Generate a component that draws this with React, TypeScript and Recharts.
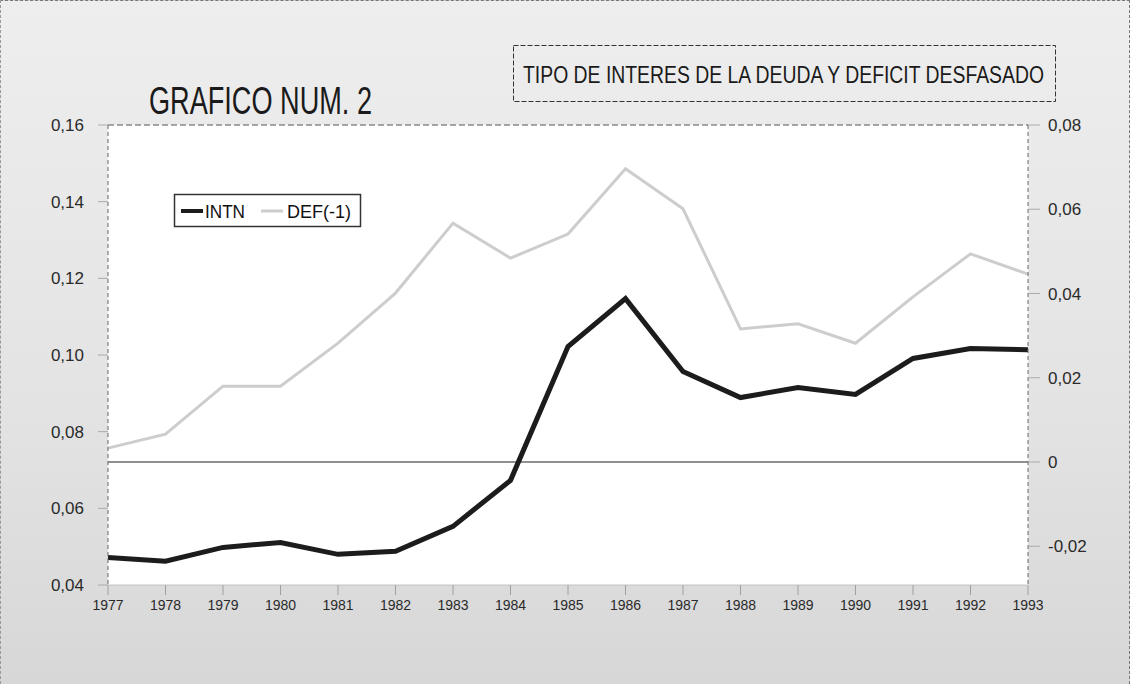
import React from 'react';
import { LineChart, Line, XAxis, YAxis, CartesianGrid, ReferenceLine } from 'recharts';

const years = ['1977', '1978', '1979', '1980', '1981', '1982', '1983', '1984', '1985', '1986', '1987', '1988', '1989', '1990', '1991', '1992', '1993'];
const intn = [0.0472, 0.0462, 0.0498, 0.0511, 0.048, 0.0488, 0.0553, 0.0673, 0.1022, 0.1147, 0.0957, 0.0889, 0.0915, 0.0897, 0.0991, 0.1017, 0.1014];
const defLag = [0.0033, 0.0066, 0.018, 0.018, 0.0282, 0.0401, 0.0567, 0.0484, 0.0541, 0.0696, 0.0601, 0.0316, 0.0328, 0.0282, 0.0392, 0.0494, 0.0446];
const leftTicks = [0.04, 0.06, 0.08, 0.1, 0.12, 0.14, 0.16];
const rightTicks = [-0.02, 0, 0.02, 0.04, 0.06, 0.08];

const data = years.map((y, i) => ({ year: y, INTN: intn[i], 'DEF(-1)': defLag[i] }));

const fmt = (v: number) => (v === 0 ? '0' : v.toFixed(2).replace('.', ','));
const font = '"Liberation Sans", Arial, sans-serif';
const tickStyle = { fill: '#2a2a2a', fontSize: 17, fontFamily: font };

const App: React.FC = () => {
  return (
    <div style={{ position: 'absolute', left: 0, top: 0, width: 1130, height: 684, background: 'linear-gradient(180deg, #eeeeee 0%, #e3e3e3 60%, #d7d7d7 100%)', boxSizing: 'border-box', borderTop: '1px dashed #777', borderRight: '1px dashed #777', borderLeft: '1px dashed #999' }}>
      <LineChart width={1130} height={684} data={data} margin={{ top: 124, right: 43, bottom: 69, left: 47 }} style={{ position: 'absolute', left: 0, top: 0 }}>
        <CartesianGrid horizontal={false} vertical={false} fill="#ffffff" />
        <XAxis dataKey="year" axisLine={{ stroke: '#c4c4c4' }} tickLine={{ stroke: '#a0a0a0' }} tickSize={10} tickMargin={5} tick={{ ...tickStyle, fontSize: 14 }} interval={0} height={31} />
        <YAxis yAxisId="left" domain={[0.04, 0.16]} ticks={leftTicks} tickFormatter={fmt} width={60} axisLine={{ stroke: '#666', strokeDasharray: '4 3' }} tickLine={{ stroke: '#aaa' }} tickSize={10} tickMargin={14} tick={tickStyle} />
        <YAxis yAxisId="right" orientation="right" domain={[-0.0292, 0.08]} ticks={rightTicks} tickFormatter={fmt} width={60} axisLine={{ stroke: '#666', strokeDasharray: '4 3' }} tickLine={{ stroke: '#aaa' }} tickSize={12} tickMargin={8} tick={tickStyle} />
        <ReferenceLine yAxisId="left" y={0.16} stroke="#555" strokeDasharray="6 3" />
        <ReferenceLine yAxisId="right" y={0} stroke="#222" strokeWidth={1} />
        <Line yAxisId="right" type="linear" dataKey="DEF(-1)" stroke="#cdcdcd" strokeWidth={3} dot={false} isAnimationActive={false} />
        <Line yAxisId="left" type="linear" dataKey="INTN" stroke="#1c1c1c" strokeWidth={5} dot={false} isAnimationActive={false} />
      </LineChart>
      <svg width={1130} height={684} style={{ position: 'absolute', left: 0, top: 0, pointerEvents: 'none' }}>
        <text x={148} y={113} fontFamily={font} fontSize={38} fill="#1a1a1a" textLength={223} lengthAdjust="spacingAndGlyphs">GRAFICO NUM. 2</text>
        <rect x={512.5} y={44.5} width={542} height={56} fill="none" stroke="#333" strokeDasharray="5 2" />
        <g transform="translate(522,82) scale(1,1.2)">
          <text x={0} y={0} fontFamily={font} fontSize={20} fill="#1a1a1a" textLength={521} lengthAdjust="spacingAndGlyphs">TIPO DE INTERES DE LA DEUDA Y DEFICIT DESFASADO</text>
        </g>
        <rect x={173.5} y={193.5} width={186} height={32} fill="#fff" stroke="#333" strokeWidth={1.5} />
        <line x1={180} x2={202} y1={210} y2={210} stroke="#1c1c1c" strokeWidth={4} />
        <text x={204} y={217} fontFamily={font} fontSize={19} fill="#111" textLength={40} lengthAdjust="spacingAndGlyphs">INTN</text>
        <line x1={260} x2={282} y1={210} y2={210} stroke="#cdcdcd" strokeWidth={3} />
        <text x={286} y={217} fontFamily={font} fontSize={19} fill="#111" textLength={64} lengthAdjust="spacingAndGlyphs">DEF(-1)</text>
      </svg>
    </div>
  );
};

export default App;
